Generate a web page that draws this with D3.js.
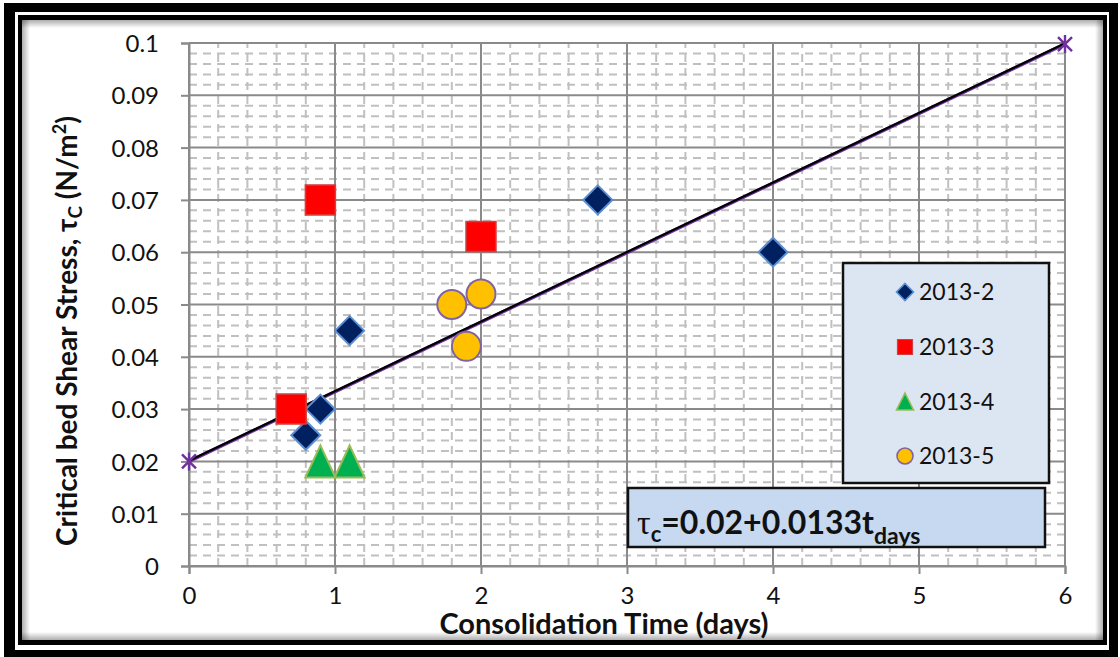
<!DOCTYPE html>
<html>
<head>
<meta charset="utf-8">
<script src="https://cdn.jsdelivr.net/npm/d3@7"></script>
<style>
  html, body { margin: 0; padding: 0; background: #fff; }
  svg { display: block; font-family: Lato, "Open Sans", sans-serif; }
</style>
</head>
<body>
<svg id="chart" width="1120" height="657"></svg>
<script>
// Consolidation experiments: critical bed shear stress vs. consolidation time
const series2013_2 = { name: "2013-2", t: [0.8, 0.9, 1.1, 2.8, 4.0], tau: [0.025, 0.03, 0.045, 0.07, 0.06] };
const series2013_3 = { name: "2013-3", t: [0.7, 0.9, 2.0], tau: [0.03, 0.07, 0.063] };
const series2013_4 = { name: "2013-4", t: [0.9, 1.1], tau: [0.02, 0.02] };
const series2013_5 = { name: "2013-5", t: [1.8, 1.9, 2.0], tau: [0.05, 0.042, 0.052] };

// Fitted relation tau_c = a + b * t
const fitIntercept = 0.02;
const fitSlope = 0.0133;
const fitT = [0, 6];

const xTicks = [0, 1, 2, 3, 4, 5, 6];
const yTicks = [0, 0.01, 0.02, 0.03, 0.04, 0.05, 0.06, 0.07, 0.08, 0.09, 0.1];

const svg = d3.select("#chart");

// ---- frame: double black border with soft inner shadow ----
svg.append("rect").attr("x", 4).attr("y", 3).attr("width", 1114).attr("height", 654).attr("fill", "#000");
svg.append("rect").attr("x", 15).attr("y", 12).attr("width", 1094).attr("height", 638).attr("fill", "#fff");
svg.append("rect").attr("x", 18).attr("y", 15).attr("width", 1089).attr("height", 630).attr("fill", "#000");
svg.append("rect").attr("x", 22).attr("y", 20).attr("width", 1081).attr("height", 620).attr("fill", "#fff");

const defs = svg.append("defs");
function shade(id, x1, y1, x2, y2) {
  const g = defs.append("linearGradient").attr("id", id)
    .attr("x1", x1).attr("y1", y1).attr("x2", x2).attr("y2", y2);
  g.append("stop").attr("offset", "0%").attr("stop-color", "#000").attr("stop-opacity", 0.32);
  g.append("stop").attr("offset", "100%").attr("stop-color", "#000").attr("stop-opacity", 0);
}
shade("shT", 0, 0, 0, 1); shade("shB", 0, 1, 0, 0); shade("shL", 0, 0, 1, 0); shade("shR", 1, 0, 0, 0);
const sw = 8;
svg.append("rect").attr("x", 22).attr("y", 20).attr("width", 1081).attr("height", sw).attr("fill", "url(#shT)");
svg.append("rect").attr("x", 22).attr("y", 640 - sw).attr("width", 1081).attr("height", sw).attr("fill", "url(#shB)");
svg.append("rect").attr("x", 22).attr("y", 20).attr("width", sw).attr("height", 620).attr("fill", "url(#shL)");
svg.append("rect").attr("x", 1103 - sw).attr("y", 20).attr("width", sw).attr("height", 620).attr("fill", "url(#shR)");

// ---- scales ----
const x = d3.scaleLinear().domain([0, 6]).range([189, 1065]);
const y = d3.scaleLinear().domain([0, 0.1]).range([566, 43]);

const majorColor = "#8a8a8a";
const minorColor = "#c0c0c0";

// ---- minor gridlines (dashed) ----
const gMinor = svg.append("g");
const xMinor = d3.range(0, 30 + 1).map(i => i * 0.2).filter((v, i) => i % 5 !== 0);
const yMinor = d3.range(0, 50 + 1).map(i => i * 0.002).filter((v, i) => i % 5 !== 0);
gMinor.selectAll("line.xm").data(xMinor).join("line")
  .attr("x1", d => x(d)).attr("x2", d => x(d)).attr("y1", y(0)).attr("y2", y(0.1))
  .attr("stroke", minorColor).attr("stroke-width", 2).attr("stroke-dasharray", "8,6");
gMinor.selectAll("line.ym").data(yMinor).join("line")
  .attr("y1", d => y(d)).attr("y2", d => y(d)).attr("x1", x(0)).attr("x2", x(6))
  .attr("stroke", minorColor).attr("stroke-width", 2).attr("stroke-dasharray", "8,6");

// ---- major gridlines ----
const gMajor = svg.append("g");
gMajor.selectAll("line.xM").data(xTicks).join("line")
  .attr("x1", d => x(d)).attr("x2", d => x(d)).attr("y1", y(0)).attr("y2", y(0.1))
  .attr("stroke", majorColor).attr("stroke-width", 2);
gMajor.selectAll("line.yM").data(yTicks).join("line")
  .attr("y1", d => y(d)).attr("y2", d => y(d)).attr("x1", x(0)).attr("x2", x(6))
  .attr("stroke", majorColor).attr("stroke-width", 2);

// ---- axes ----
const fmtY = d => d === 0 ? "0" : d3.format(".2~f")(d);
const yAxis = d3.axisLeft(y).tickValues(yTicks).tickFormat(fmtY).tickSize(8).tickPadding(22);
const xAxis = d3.axisBottom(x).tickValues(xTicks).tickFormat(d3.format("d")).tickSize(8).tickPadding(13);

const gy = svg.append("g").attr("transform", `translate(${x(0)},0)`).call(yAxis);
const gx = svg.append("g").attr("transform", `translate(0,${y(0)})`).call(xAxis);
[gx, gy].forEach(g => {
  g.select(".domain").attr("stroke", majorColor).attr("stroke-width", 2);
  g.selectAll(".tick line").attr("stroke", majorColor).attr("stroke-width", 2);
  g.selectAll(".tick text").attr("fill", "#111").style("font-size", "24px").style("font-family", "Lato, sans-serif");
});
gy.selectAll(".tick text").attr("dy", "0.36em");
gx.selectAll(".tick text").attr("dy", "0.72em");

// ---- axis titles ----
svg.append("text")
  .attr("x", 604).attr("y", 634)
  .attr("text-anchor", "middle")
  .attr("font-weight", "bold").attr("font-size", 29).attr("fill", "#111")
  .text("Consolidation Time (days)");

const yt = svg.append("text")
  .attr("transform", "translate(77,331) rotate(-90)")
  .attr("text-anchor", "middle")
  .attr("font-weight", "bold").attr("font-size", 28).attr("fill", "#111");
yt.append("tspan").text("Critical bed Shear Stress, τ");
yt.append("tspan").attr("font-size", 19).attr("dy", 5).text("C");
yt.append("tspan").attr("dy", -5).text(" (N/m");
yt.append("tspan").attr("font-size", 18).attr("dy", -11).text("2");
yt.append("tspan").attr("dy", 11).text(")");

// ---- fitted line ----
const fitPts = fitT.map(t => [t, fitIntercept + fitSlope * t]);
const line = d3.line().x(d => x(d[0])).y(d => y(d[1]));
svg.append("path").datum(fitPts).attr("d", line)
  .attr("fill", "none").attr("stroke", "#7030a0").attr("stroke-width", 3.4);
svg.append("path").datum(fitPts).attr("d", line)
  .attr("transform", "translate(0,-0.7)")
  .attr("fill", "none").attr("stroke", "#000").attr("stroke-width", 2.2);

const starPath = "M-7,-7L7,7M-7,7L7,-7M0,-9L0,9";
svg.selectAll("path.star").data(fitPts).join("path")
  .attr("transform", d => `translate(${x(d[0])},${y(d[1])})`)
  .attr("d", starPath).attr("fill", "none").attr("stroke", "#7030a0").attr("stroke-width", 2.4);

// ---- marker shapes ----
const diamond = r => `M0,${-r}L${r},0L0,${r}L${-r},0Z`;
const square = s => `M${-s / 2},${-s / 2}h${s}v${s}h${-s}Z`;
const triangle = (w, up, down) => `M0,${-up}L${w},${down}L${-w},${down}Z`;
const circle = r => `M${-r},0a${r},${r} 0 1,0 ${2 * r},0a${r},${r} 0 1,0 ${-2 * r},0Z`;

const styles = [
  { s: series2013_2, big: diamond(14.5), small: diamond(8.5), fill: "#002060", stroke: "#5b8fd0", sw: 2 },
  { s: series2013_3, big: square(30), small: square(15), fill: "#ff0000", stroke: "#d04040", sw: 1.5 },
  { s: series2013_4, big: triangle(15, 16, 16), small: triangle(8.5, 9, 8), fill: "#00b050", stroke: "#9bbb59", sw: 2 },
  { s: series2013_5, big: circle(14.5), small: circle(8), fill: "#ffc000", stroke: "#8064a2", sw: 2 }
];

styles.forEach(st => {
  const pts = st.s.t.map((t, i) => [t, st.s.tau[i]]);
  svg.append("g").selectAll("path").data(pts).join("path")
    .attr("transform", d => `translate(${x(d[0])},${y(d[1])})`)
    .attr("d", st.big).attr("fill", st.fill)
    .attr("stroke", st.stroke).attr("stroke-width", st.sw);
});

// ---- legend ----
const lg = svg.append("g");
lg.append("rect").attr("x", 843).attr("y", 263).attr("width", 206).attr("height", 220)
  .attr("fill", "#dce6f2").attr("stroke", "#111").attr("stroke-width", 2.5);
const rowY = [292, 347, 402, 456];
styles.forEach((st, i) => {
  lg.append("path").attr("transform", `translate(905,${rowY[i]})`)
    .attr("d", st.small).attr("fill", st.fill).attr("stroke", st.stroke).attr("stroke-width", st.sw * 0.8);
  lg.append("text").attr("x", 919).attr("y", rowY[i]).attr("dy", "0.36em")
    .attr("font-size", 23).attr("fill", "#111").text(st.s.name);
});

// ---- equation box ----
const eq = svg.append("g");
eq.append("rect").attr("x", 628).attr("y", 488).attr("width", 417).attr("height", 59)
  .attr("fill", "#c6d9f1").attr("stroke", "#111").attr("stroke-width", 2.5);
const et = eq.append("text").attr("x", 637).attr("y", 534)
  .attr("font-weight", "bold").attr("font-size", 32).attr("fill", "#111");
et.append("tspan").attr("font-family", "'Liberation Serif', serif").attr("font-weight", "normal").attr("font-size", 34).text("τ");
et.append("tspan").attr("font-size", 22).attr("dy", 8).text("c");
et.append("tspan").attr("dy", -8).text(`=${fitIntercept}+${fitSlope}t`);
et.append("tspan").attr("font-size", 23).attr("dy", 10).text("days");
</script>
</body>
</html>
